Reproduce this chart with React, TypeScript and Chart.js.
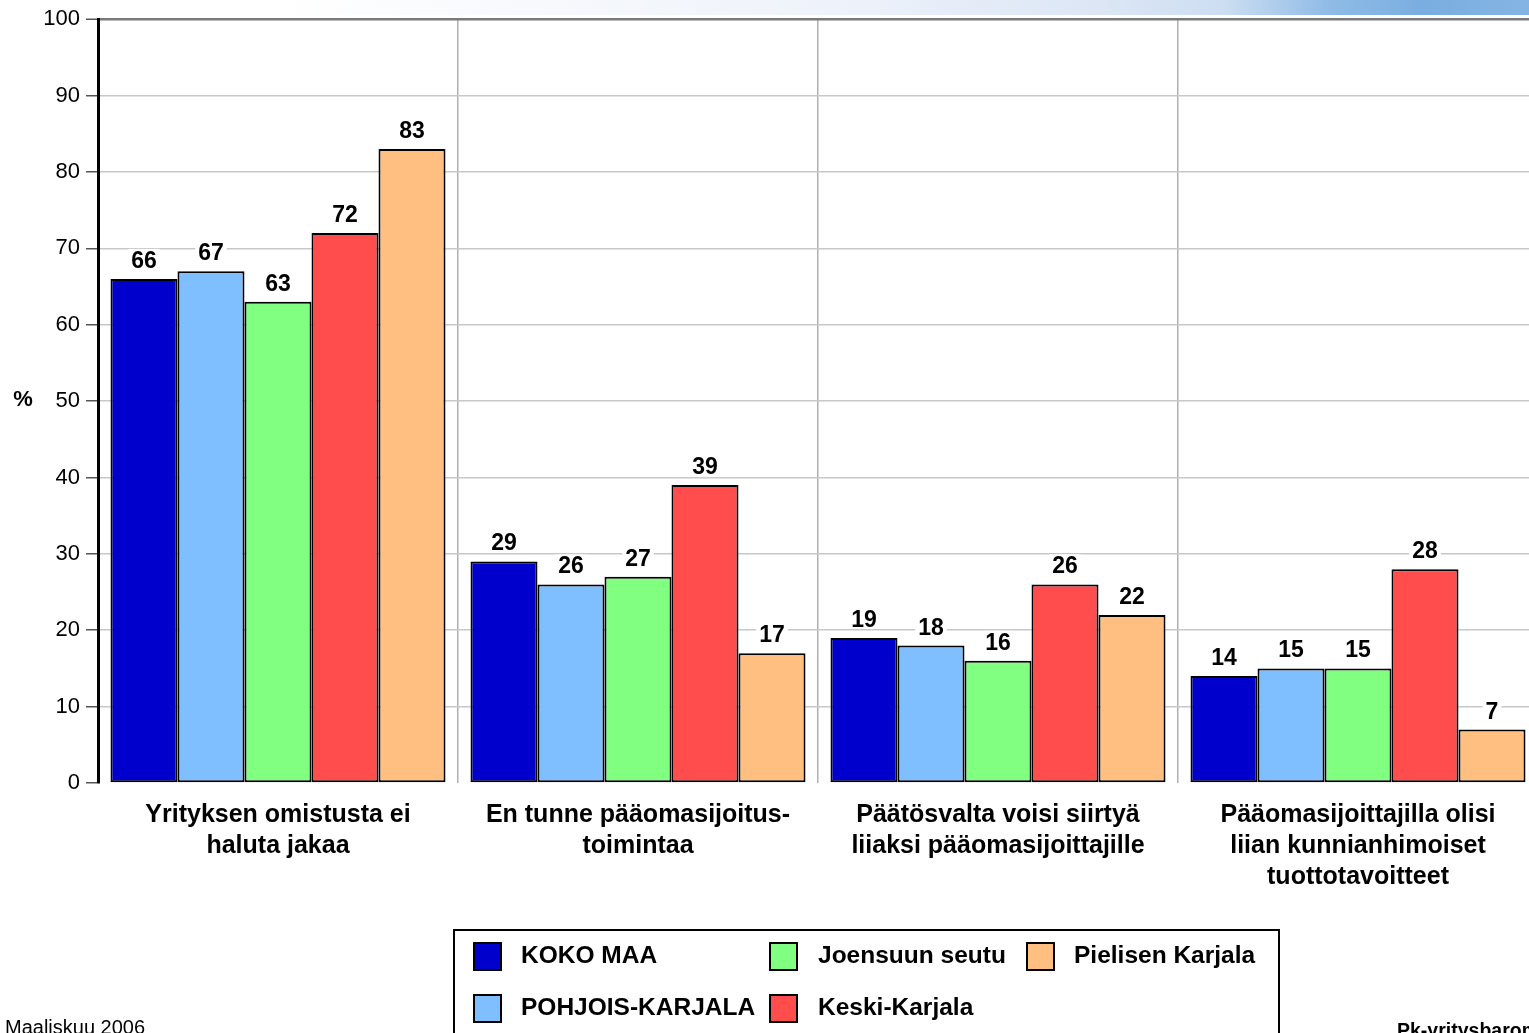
import React, { useEffect, useRef } from 'react';
import { Chart, registerables } from 'chart.js';

Chart.register(...registerables);

const categories = [
  ['Yrityksen omistusta ei', 'haluta jakaa'],
  ['En tunne pääomasijoitus-', 'toimintaa'],
  ['Päätösvalta voisi siirtyä', 'liiaksi pääomasijoittajille'],
  ['Pääomasijoittajilla olisi', 'liian kunnianhimoiset', 'tuottotavoitteet'],
];
const seriesNames = ['KOKO MAA', 'POHJOIS-KARJALA', 'Joensuun seutu', 'Keski-Karjala', 'Pielisen Karjala'];
const kokoMaa = [66, 29, 19, 14];
const pohjoisKarjala = [67, 26, 18, 15];
const joensuunSeutu = [63, 27, 16, 15];
const keskiKarjala = [72, 39, 26, 28];
const pielisenKarjala = [83, 17, 22, 7];
const seriesValues = [kokoMaa, pohjoisKarjala, joensuunSeutu, keskiKarjala, pielisenKarjala];
const seriesColors = ['#0000cc', '#80bfff', '#80ff80', '#ff4d4d', '#ffbf80'];
const yMin = 0;
const yMax = 100;
const yStep = 10;
const yAxisTitle = '%';
const footerLeft = 'Maaliskuu 2006';
const footerRight = 'Pk-yritysbarometri';

const FAMILY = "'Liberation Sans', Arial, Helvetica, sans-serif";

const bandPlugin = {
  id: 'topBand',
  beforeDraw(chart: any) {
    const ctx = chart.ctx;
    ctx.save();
    const g = ctx.createLinearGradient(0, 0, 1529, 0);
    g.addColorStop(0, '#ffffff');
    g.addColorStop(0.18, '#ffffff');
    g.addColorStop(0.55, '#eef2fa');
    g.addColorStop(0.72, '#dce6f5');
    g.addColorStop(0.8, '#cddef2');
    g.addColorStop(0.87, '#8fbbe6');
    g.addColorStop(0.93, '#7aaee0');
    g.addColorStop(1, '#84b4e3');
    ctx.fillStyle = g;
    ctx.fillRect(0, 0, chart.width, 15);
    ctx.restore();
  },
};

const dataLabelPlugin = {
  id: 'dataLabels',
  afterDatasetsDraw(chart: any) {
    const ctx = chart.ctx;
    ctx.save();
    ctx.font = `bold 23px ${FAMILY}`;
    ctx.textAlign = 'center';
    ctx.textBaseline = 'alphabetic';
    chart.data.datasets.forEach((ds: any, i: number) => {
      const meta = chart.getDatasetMeta(i);
      meta.data.forEach((el: any, j: number) => {
        const t = String(ds.data[j]);
        const w = ctx.measureText(t).width;
        const by = el.y - 11;
        ctx.fillStyle = '#ffffff';
        ctx.fillRect(el.x - w / 2 - 3, by - 19, w + 6, 21);
        ctx.fillStyle = '#000000';
        ctx.fillText(t, el.x, by);
      });
    });
    ctx.restore();
  },
};

const extrasPlugin = {
  id: 'extras',
  afterDraw(chart: any) {
    const ctx = chart.ctx;
    ctx.save();
    // y axis title
    ctx.fillStyle = '#000';
    ctx.font = `bold 22px ${FAMILY}`;
    ctx.textAlign = 'center';
    ctx.textBaseline = 'middle';
    ctx.fillText(yAxisTitle, 23, 400);

    // legend box
    ctx.fillStyle = '#ffffff';
    ctx.fillRect(454, 930, 825, 200);
    ctx.strokeStyle = '#000';
    ctx.lineWidth = 2;
    ctx.strokeRect(454, 930, 825, 200);
    const swatchX = [474, 770, 1027];
    const textX = [521, 818, 1074];
    const rowY = [956, 1008];
    ctx.font = `bold 24.5px ${FAMILY}`;
    ctx.textAlign = 'left';
    ctx.textBaseline = 'middle';
    chart.data.datasets.forEach((ds: any, i: number) => {
      const col = Math.floor(i / 2);
      const row = i % 2;
      const sx = swatchX[col];
      const cy = rowY[row];
      ctx.fillStyle = ds.backgroundColor;
      ctx.fillRect(sx, cy - 13, 27, 27);
      ctx.lineWidth = 2;
      ctx.strokeStyle = '#000';
      ctx.strokeRect(sx, cy - 13, 27, 27);
      ctx.fillStyle = '#000';
      ctx.fillText(ds.label, textX[col], cy);
    });

    // footers
    ctx.textBaseline = 'alphabetic';
    ctx.font = `20px ${FAMILY}`;
    ctx.fillText(footerLeft, 5, 1034);
    ctx.font = `bold 19.5px ${FAMILY}`;
    ctx.fillText(footerRight, 1397, 1037);
    ctx.restore();
  },
};

export default function App() {
  const ref = useRef<HTMLCanvasElement>(null);

  useEffect(() => {
    if (!ref.current) return;
    const chart = new Chart(ref.current, {
      type: 'bar',
      data: {
        labels: categories as any,
        datasets: seriesNames.map((name, i) => ({
          label: name,
          data: seriesValues[i],
          backgroundColor: seriesColors[i],
          borderColor: '#000000',
          borderWidth: 2,
          borderSkipped: false,
          barPercentage: 1,
          categoryPercentage: 0.9306,
        })),
      },
      options: {
        responsive: false,
        animation: false,
        devicePixelRatio: 1,
        layout: { padding: { left: 0, right: 22, top: 15, bottom: 0 } },
        plugins: {
          legend: { display: false },
          tooltip: { enabled: false },
        },
        scales: {
          x: {
            grid: { color: '#b0b0b0', lineWidth: 1.5, drawTicks: false, offset: true },
            border: { display: false },
            ticks: {
              color: '#000',
              font: { family: FAMILY, size: 25, weight: 'bold', lineHeight: 1.24 },
              padding: 17,
              maxRotation: 0,
              minRotation: 0,
              autoSkip: false,
            },
            afterFit: (s: any) => {
              s.height = 250;
            },
          },
          y: {
            min: yMin,
            max: yMax,
            ticks: {
              stepSize: yStep,
              color: '#000',
              font: { family: FAMILY, size: 22 },
              padding: 6,
            },
            grid: {
              color: (c: any) =>
                c.tick && c.tick.value === yMax ? '#7a7a7a' : c.tick && c.tick.value === yMin ? 'rgba(0,0,0,0)' : '#c8c8c8',
              lineWidth: (c: any) => (c.tick && c.tick.value === yMax ? 2.5 : 1.5),
              tickColor: '#555555',
              tickLength: 12,
              tickWidth: 1.5,
            },
            border: { color: '#000', width: 3 },
            afterFit: (s: any) => {
              s.width = 98;
            },
          },
        },
      } as any,
      plugins: [bandPlugin, dataLabelPlugin, extrasPlugin],
    });
    return () => chart.destroy();
  }, []);

  return (
    <div
      style={{
        position: 'fixed',
        left: 0,
        top: 0,
        width: 1529,
        height: 1033,
        overflow: 'hidden',
        background: '#ffffff',
      }}
    >
      <canvas ref={ref} width={1560} height={1033} style={{ display: 'block' }} />
    </div>
  );
}
